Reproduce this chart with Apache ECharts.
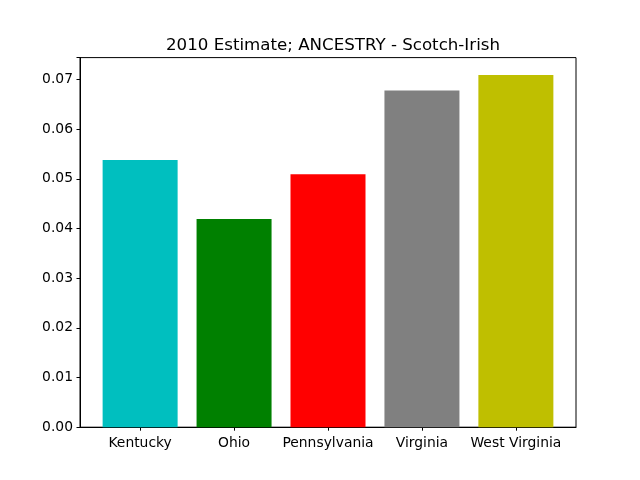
<!DOCTYPE html>
<html>
<head>
<meta charset="utf-8">
<script src="https://cdn.jsdelivr.net/npm/echarts@6/dist/echarts.min.js"></script>
<style>
  html, body { margin: 0; padding: 0; background: #fff; }
  #chart { width: 640px; height: 480px; }
</style>
</head>
<body>
<div id="chart"></div>
<script>
// values
const states = ['Kentucky', 'Ohio', 'Pennsylvania', 'Virginia', 'West Virginia'];
const shares = [0.0538, 0.0419, 0.0509, 0.0678, 0.0709];
const barColors = ['#00bfbf', '#008000', '#ff0000', '#808080', '#bfbf00'];
const yTicks = [0, 0.01, 0.02, 0.03, 0.04, 0.05, 0.06, 0.07];
const titleText = '2010 Estimate; ANCESTRY - Scotch-Irish';

const font = 'DejaVu Sans';
const positions = states.map((s, i) => i);

var chartDom = document.getElementById('chart');
var myChart = echarts.init(chartDom, null, {renderer: 'canvas'});

var option = {
    animation: false,
    backgroundColor: '#fff',
    title: {
        text: titleText,
        left: 328,
        top: 32,
        textAlign: 'center',
        textStyle: {fontFamily: font, fontSize: 16.67, fontWeight: 'normal', color: '#000'}
    },
    grid: {
        left: 80, right: 64, top: 57.6, bottom: 52.8,
        show: true, borderColor: '#000', borderWidth: 1, backgroundColor: 'transparent'
    },
    xAxis: {
        type: 'value',
        min: -0.64,
        max: 4.64,
        splitLine: {show: false},
        axisLine: {show: true, onZero: false, lineStyle: {color: '#000', width: 1}},
        axisTick: {show: true, customValues: positions, length: 3.5, lineStyle: {color: '#000'}},
        axisLabel: {
            customValues: positions,
            margin: 9,
            fontFamily: font, fontSize: 13.89, color: '#000',
            formatter: v => states[Math.round(v)]
        }
    },
    yAxis: {
        type: 'value',
        min: 0,
        max: 0.0744,
        interval: 0.01,
        splitLine: {show: false},
        axisLine: {show: true, onZero: false, lineStyle: {color: '#000', width: 1}},
        axisTick: {show: true, length: 3.5, lineStyle: {color: '#000'}},
        axisLabel: {
            customValues: yTicks,
            margin: 7,
            fontFamily: font, fontSize: 13.89, color: '#000',
            formatter: v => v.toFixed(2)
        }
    },
    series: [{
        type: 'bar',
        barWidth: 75,
        data: positions.map((x, i) => ({
            value: [x, shares[i]],
            itemStyle: {color: barColors[i]}
        }))
    }]
};

myChart.setOption(option);
</script>
</body>
</html>
